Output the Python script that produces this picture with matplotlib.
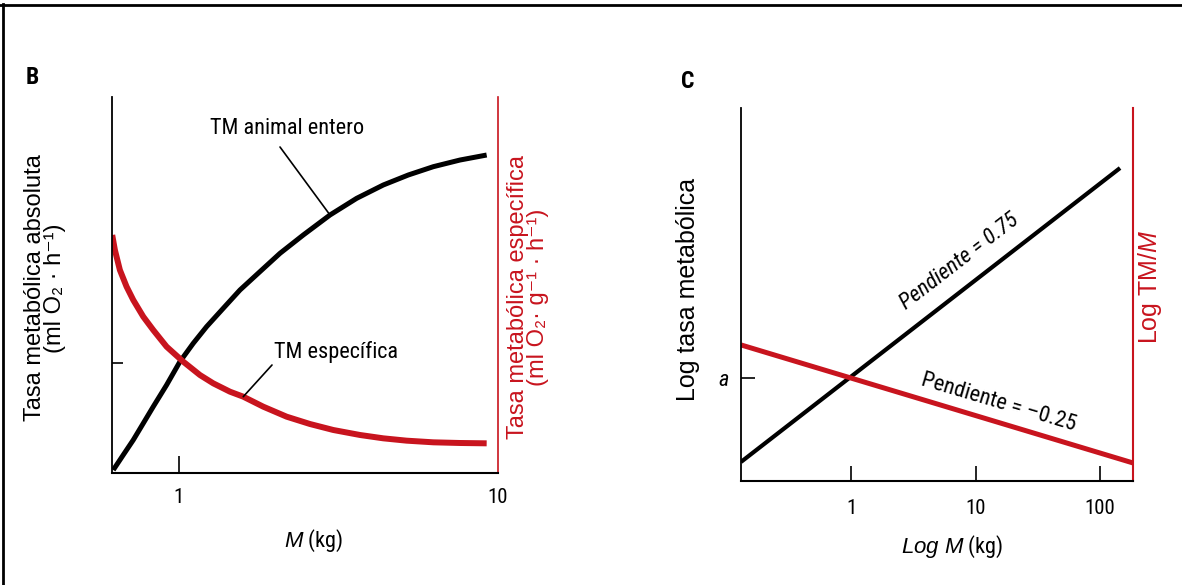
import matplotlib
matplotlib.use("Agg")
import matplotlib.pyplot as plt
from matplotlib import font_manager
from matplotlib.lines import Line2D
from matplotlib.ticker import NullLocator

# Panel B: absolute (whole animal) and mass-specific metabolic rate vs M (kg)
b_mass_total = [0.6226, 0.6690, 0.7193, 0.7731, 0.8308, 0.9148, 1.0072, 1.1089, 1.2211,
                1.3770, 1.5535, 1.7945, 2.0734, 2.4533, 2.9750, 3.6060, 4.3706, 5.2354,
                6.2718, 7.6018, 9.2147]
b_rate_total = [0.080, 0.479, 0.878, 1.321, 1.764, 2.340, 2.961, 3.449, 3.892,
                4.380, 4.867, 5.355, 5.842, 6.330, 6.862, 7.305, 7.660, 7.926,
                8.147, 8.324, 8.457]
b_mass_spec = [0.6180, 0.6300, 0.6531, 0.6854, 0.7193, 0.7731, 0.8308, 0.9148, 1.0318,
               1.1637, 1.2810, 1.4451, 1.5910, 1.8380, 2.1755, 2.5745, 3.0455, 3.6933,
               4.3706, 5.1719, 6.2718, 7.6018, 9.2147]
b_rate_spec = [6.330, 5.931, 5.399, 4.956, 4.601, 4.158, 3.803, 3.360, 2.961,
               2.606, 2.385, 2.163, 2.030, 1.764, 1.498, 1.303, 1.144, 1.011,
               0.922, 0.860, 0.816, 0.798, 0.789]
b_xticks = [1, 10]
b_xticklabels = ["1", "10"]
b_yticks = [2.93]

# Panel C: log-log lines (slopes 0.75 and -0.25)
c_mass_total = [0.1307, 144.8]
c_log_total = [-0.656, 1.64]
c_mass_spec = [0.1307, 184]
c_log_spec = [0.258, -0.664]
c_xticks = [1, 10, 100]
c_xticklabels = ["1", "10", "100"]
c_yticks = [0]
c_yticklabels = ["a"]

RED = "#c8141e"
W, H = 1182, 585
SANS = ["Liberation Sans", "DejaVu Sans"]

# the figure uses a condensed face for labels; take one if installed
available = {f.name for f in font_manager.fontManager.ttflist}
cond = next((n for n in ["Liberation Sans Narrow", "Arial Narrow", "Roboto Condensed"]
             if n in available), None)
if cond:
    NARROW = [cond, "DejaVu Sans"]
    k = 1.0
else:
    NARROW = SANS
    k = 0.87

plt.rcParams["font.family"] = SANS
plt.rcParams["mathtext.fontset"] = "custom"
plt.rcParams["mathtext.rm"] = "Liberation Sans"
plt.rcParams["mathtext.it"] = "Liberation Sans:italic"


def box(l, t, r, b):
    return [l / W, 1 - b / H, (r - l) / W, (b - t) / H]


def fp(x, y):
    return (x / W, 1 - y / H)


def ftext(x, y, s, **kw):
    kw.setdefault("ha", "center")
    kw.setdefault("va", "center")
    fig.text(x / W, 1 - y / H, s, **kw)


def style_axes(ax):
    ax.spines["top"].set_visible(False)
    ax.spines["left"].set_linewidth(1.3)
    ax.spines["bottom"].set_linewidth(1.5)
    ax.spines["right"].set_color(RED)
    ax.spines["right"].set_linewidth(1.2)
    ax.set_xscale("log")
    ax.xaxis.set_minor_locator(NullLocator())
    ax.yaxis.set_minor_locator(NullLocator())
    ax.patch.set_alpha(0)


fig = plt.figure(figsize=(W / 100, H / 100), dpi=100)

# page border (top and left only, as in the scan)
fig.add_artist(Line2D([0, 1], [1 - 5 / H] * 2, transform=fig.transFigure, color="black", lw=2))
fig.add_artist(Line2D([3 / W] * 2, [0, 1 - 4 / H], transform=fig.transFigure, color="black", lw=2))

# ---------- Panel B ----------
axB = fig.add_axes(box(112, 97, 498, 473))
style_axes(axB)
axB.set_xlim(0.617, 10)
axB.set_ylim(0, 10)
axB.plot(b_mass_total, b_rate_total, color="black", lw=3.6, solid_capstyle="butt")
axB.plot(b_mass_spec, b_rate_spec, color=RED, lw=4.3, solid_capstyle="butt")
axB.set_xticks(b_xticks, b_xticklabels)
axB.set_yticks(b_yticks, [""])
axB.tick_params(axis="x", direction="in", length=12, width=1.2, pad=11, labelsize=15 * k)
axB.tick_params(axis="y", direction="in", length=8, width=1.2)
axB.xaxis.get_major_ticks()[1].tick1line.set_visible(False)
for lab in axB.get_xticklabels():
    lab.set_family(NARROW)

axB.annotate("", xy=(b_mass_total[14], b_rate_total[14]), xytext=fp(280, 147),
             textcoords="figure fraction",
             arrowprops=dict(arrowstyle="-", lw=1.2, color="black", shrinkA=0, shrinkB=0))
axB.annotate("", xy=(b_mass_spec[12], b_rate_spec[12]), xytext=fp(272, 365),
             textcoords="figure fraction",
             arrowprops=dict(arrowstyle="-", lw=1.2, color="black", shrinkA=0, shrinkB=0))

ftext(32, 77, "B", fontsize=17, fontweight="bold", family=NARROW)
ftext(287, 129, "TM animal entero", fontsize=16 * k, family=NARROW)
ftext(336, 352, "TM específica", fontsize=16 * k, family=NARROW)
ftext(45, 288, "Tasa metabólica absoluta\n(ml O₂ · h⁻¹)", fontsize=17,
      rotation=90, linespacing=0.92, multialignment="center")
ftext(528, 297, "Tasa metabólica específica\n(ml O₂· g⁻¹ · h⁻¹)", fontsize=17,
      rotation=90, linespacing=0.92, multialignment="center", color=RED)
ftext(314, 541, r"$\mathit{M}$ (kg)", fontsize=16 * k, family=NARROW)

# ---------- Panel C ----------
axC = fig.add_axes(box(741, 108, 1133, 481))
style_axes(axC)
axC.spines["right"].set_linewidth(1.5)
axC.set_xlim(0.1307, 184)
axC.set_ylim(-0.805, 2.109)
axC.plot(c_mass_total, c_log_total, color="black", lw=3.0, solid_capstyle="butt")
axC.plot(c_mass_spec, c_log_spec, color=RED, lw=3.6, solid_capstyle="butt")
axC.set_xticks(c_xticks, c_xticklabels)
axC.set_yticks(c_yticks, c_yticklabels)
axC.tick_params(axis="x", direction="in", length=11, width=1.2, pad=13, labelsize=15 * k)
axC.tick_params(axis="y", direction="in", length=10, width=1.2, pad=9, labelsize=16 * k)
for lab in axC.get_xticklabels():
    lab.set_family(NARROW)
for lab in axC.get_yticklabels():
    lab.set_family(NARROW)
    lab.set_style("italic")

ftext(688, 81, "C", fontsize=17, fontweight="bold", family=NARROW)
ftext(688, 289, "Log tasa metabólica", fontsize=18, rotation=90)
ftext(1150, 287, r"Log TM/$\mathit{M}$", fontsize=18, rotation=90, color=RED)
ftext(952, 547, r"$\mathit{Log\ M}$ (kg)", fontsize=16 * k, family=NARROW)
ftext(960, 262, "Pendiente = 0.75", fontsize=16 * k, rotation=37.6, style="italic", family=NARROW)
ftext(999, 403, "Pendiente = –0.25", fontsize=16 * k, rotation=-16.5, family=NARROW)

fig.savefig("out.png", dpi=100, facecolor="white")
